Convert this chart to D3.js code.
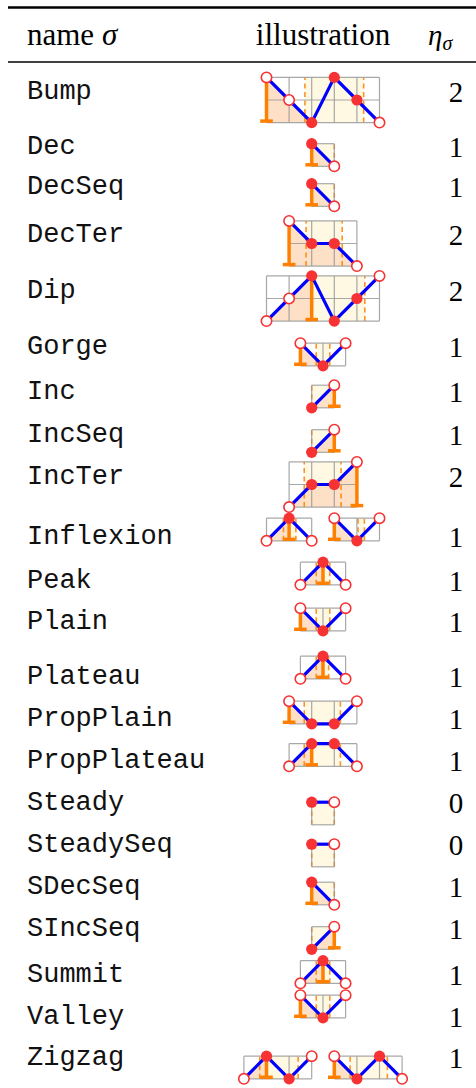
<!DOCTYPE html>
<html><head><meta charset="utf-8">
<script src="https://cdn.jsdelivr.net/npm/d3@7"></script>
<style>body{margin:0;background:#fff}</style>
</head><body>
<svg id="c" width="476" height="1088"></svg>
<script>
// ---------- data ----------
const names = ["Bump","Dec","DecSeq","DecTer","Dip","Gorge","Inc","IncSeq","IncTer","Inflexion","Peak","Plain","Plateau","PropPlain","PropPlateau","Steady","SteadySeq","SDecSeq","SIncSeq","Summit","Valley","Zigzag"];
const eta = [2,1,1,2,2,1,1,1,2,1,1,1,1,1,1,0,0,1,1,1,1,1];
const headers = ["name", "illustration", "η"];
// illustration values per row (one or two small sequences)
const seqValues = [
  [[2,1,0,2,1,0]],
  [[1,0]],
  [[1,0]],
  [[2,1,1,0]],
  [[0,1,2,0,1,2]],
  [[1,0,1]],
  [[0,1]],
  [[0,1]],
  [[0,1,1,2]],
  [[0,1,0],[1,0,1]],
  [[0,1,0]],
  [[1,0,1]],
  [[0,1,0]],
  [[1,0,0,1]],
  [[0,1,1,0]],
  [[1,1]],
  [[1,1]],
  [[1,0]],
  [[0,1]],
  [[0,1,0]],
  [[1,0,1]],
  [[0,1,0,1],[1,0,1,0]]
];
// point kinds: f = filled, o = open
const seqMarks = [
  ["oofffo"],["fo"],["fo"],["offo"],["oofffo"],["ofo"],["fo"],["fo"],["offo"],
  ["ofo","ofo"],["ofo"],["ofo"],["ofo"],["offo"],["offo"],["fo"],["fo"],["fo"],["fo"],
  ["ofo"],["ofo"],["offo","offo"]
];
// index of the orange bar (feature) in each sequence
const seqBar = [
  [0],[0],[0],[0],[2],[0],[1],[1],[3],[1,0],[1],[0],[1],[0],[1],[null],[null],[0],[1],[1],[0],[1,0]
];
// range (index) filled under the curve
const seqArea = [
  [[0,2]],[[0,1]],[[0,1]],[[0,3]],[[0,2]],[[0,1]],[[0,1]],[[0,1]],[[0,3]],
  [[0,1],[0,1]],[[0,1]],[[0,1]],[[0,1]],[[0,1]],[[0,1]],[null],[null],[[0,1]],[[0,1]],
  [[0,1]],[[0,1]],[[0,1],[0,1]]
];
// highlighted band (dashed borders)
const seqBand = [
  [[1.7,4.3]],[[0,1]],[[0,1]],[[0.75,2.35]],[[2,4.35]],[[0.7,1.3]],[[0,1]],[[0,1]],[[0.67,2.3]],
  [[0.75,1.3],[1.05,1.33]],[[0.7,1.3]],[[0.7,1.3]],[[0.7,1.25]],[[0.67,2.27]],[[0.67,2.27]],
  [[0,1]],[[0,1]],[[0,1]],[[0,1]],[[0.7,1.3]],[[0.7,1.3]],[[0.7,2.4],[0.7,2.35]]
];

// ---------- layout ----------
const W = 476, H = 1088;
const U = 22.6;               // grid unit in px
const illusCX = 323;
const rowY = [92,147,187,235,291,347,392,435,477,537,581,622,677,719,761,803,845,887,929,975,1017,1058];
const illusDY = [8,8,8,8.5,7.5,7.5,4.5,6,7.5,-7.5,-7.5,-2.5,-9.5,-6.5,-6,10.5,10.5,6.5,9,-3,-10.5,9.5];

const svg = d3.select("#c");
const serif = "'Liberation Serif','Times New Roman',serif";
const mono = "'Liberation Mono','DejaVu Sans Mono',monospace";

// rules
svg.append("line").attr("x1",8).attr("x2",W).attr("y1",7.5).attr("y2",7.5).attr("stroke","#000").attr("stroke-width",2.4);
svg.append("line").attr("x1",8).attr("x2",W).attr("y1",62).attr("y2",62).attr("stroke","#000").attr("stroke-width",1.3);

// headers
const h1 = svg.append("text").attr("x",27).attr("y",45).attr("font-family",serif).attr("font-size",31);
h1.append("tspan").text(headers[0] + " ");
h1.append("tspan").attr("font-style","italic").text("σ");
svg.append("text").attr("x",illusCX).attr("y",45).attr("text-anchor","middle").attr("font-family",serif).attr("font-size",31).text(headers[1]);
const h3 = svg.append("text").attr("x",428).attr("y",45).attr("font-family",serif).attr("font-size",29).attr("font-style","italic");
h3.append("tspan").text(headers[2]);
h3.append("tspan").attr("font-size",20).attr("dy",5).text("σ");

// name + eta
svg.selectAll("text.nm").data(names).join("text").attr("class","nm")
  .attr("x",27).attr("y",(d,i)=>rowY[i]).attr("dominant-baseline","central")
  .attr("font-family",mono).attr("font-size",27).attr("fill","#111").text(d=>d);
svg.selectAll("text.eta").data(eta).join("text").attr("class","eta")
  .attr("x",456).attr("y",(d,i)=>rowY[i]).attr("dominant-baseline","central").attr("text-anchor","middle")
  .attr("font-family",serif).attr("font-size",29).text(d=>d);

// illustrations
const ORANGE = "#ff8000", BLUE = "#0000ff", RED = "#f63232";
names.forEach((nm,i)=>{
  const panels = seqValues[i];
  const widths = panels.map(v=>(v.length-1)*U);
  const gap = U;
  const total = d3.sum(widths) + gap*(panels.length-1);
  let x0 = illusCX - total/2;
  const cy = rowY[i] + illusDY[i];
  panels.forEach((vals,k)=>{
    const n = vals.length-1;
    const hmax = Math.max(1, d3.max(vals));
    const x = d3.scaleLinear().domain([0,n]).range([x0, x0+n*U]);
    const y = d3.scaleLinear().domain([0,hmax]).range([cy + hmax*U/2, cy - hmax*U/2]);
    const g = svg.append("g");
    const band = seqBand[i][k];
    if (band) {
      g.append("rect").attr("x",x(band[0])).attr("width",x(band[1])-x(band[0]))
        .attr("y",y(hmax)).attr("height",y(0)-y(hmax)).attr("fill","#fff9e3");
    }
    const area = seqArea[i][k];
    if (area) {
      const pts = d3.range(area[0], area[1]+1).map(j=>[x(j),y(vals[j])]);
      pts.push([x(area[1]),y(0)],[x(area[0]),y(0)]);
      g.append("path").attr("d","M"+pts.join("L")+"Z").attr("fill","#fde0c6");
    }
    if (band) {
      band.forEach(b=>{
        g.append("line").attr("x1",x(b)).attr("x2",x(b)).attr("y1",y(0)).attr("y2",y(hmax))
          .attr("stroke",ORANGE).attr("stroke-width",1.6).attr("stroke-dasharray","5,3.5").attr("opacity",0.85);
      });
    }
    // grid
    d3.range(0,n+1).forEach(j=>{
      g.append("line").attr("x1",x(j)).attr("x2",x(j)).attr("y1",y(0)).attr("y2",y(hmax))
        .attr("stroke","#9a9a9a").attr("stroke-width",1.2).attr("opacity",0.85);
    });
    d3.range(0,hmax+1).forEach(j=>{
      g.append("line").attr("x1",x(0)).attr("x2",x(n)).attr("y1",y(j)).attr("y2",y(j))
        .attr("stroke","#9a9a9a").attr("stroke-width",1.2).attr("opacity",0.85);
    });
    // bar
    const b = seqBar[i][k];
    if (b !== null && b !== undefined) {
      g.append("line").attr("x1",x(b)).attr("x2",x(b)).attr("y1",y(vals[b])).attr("y2",y(0)-1)
        .attr("stroke",ORANGE).attr("stroke-width",3.5);
      g.append("line").attr("x1",x(b)-U*0.28).attr("x2",x(b)+U*0.28).attr("y1",y(0)-1.5).attr("y2",y(0)-1.5)
        .attr("stroke",ORANGE).attr("stroke-width",3.5);
    }
    // curve
    g.append("path").attr("d",d3.line().x((d,j)=>x(j)).y(d=>y(d))(vals))
      .attr("fill","none").attr("stroke",BLUE).attr("stroke-width",3.2).attr("stroke-linejoin","round");
    const marks = seqMarks[i][k];
    vals.forEach((v,j)=>{
      const filled = marks[j]==="f";
      g.append("circle").attr("cx",x(j)).attr("cy",y(v)).attr("r",filled?5.6:5.2)
        .attr("fill",filled?RED:"#fff").attr("stroke",RED).attr("stroke-width",filled?0:1.6);
    });
    x0 += n*U + gap;
  });
});
</script>
</body></html>
